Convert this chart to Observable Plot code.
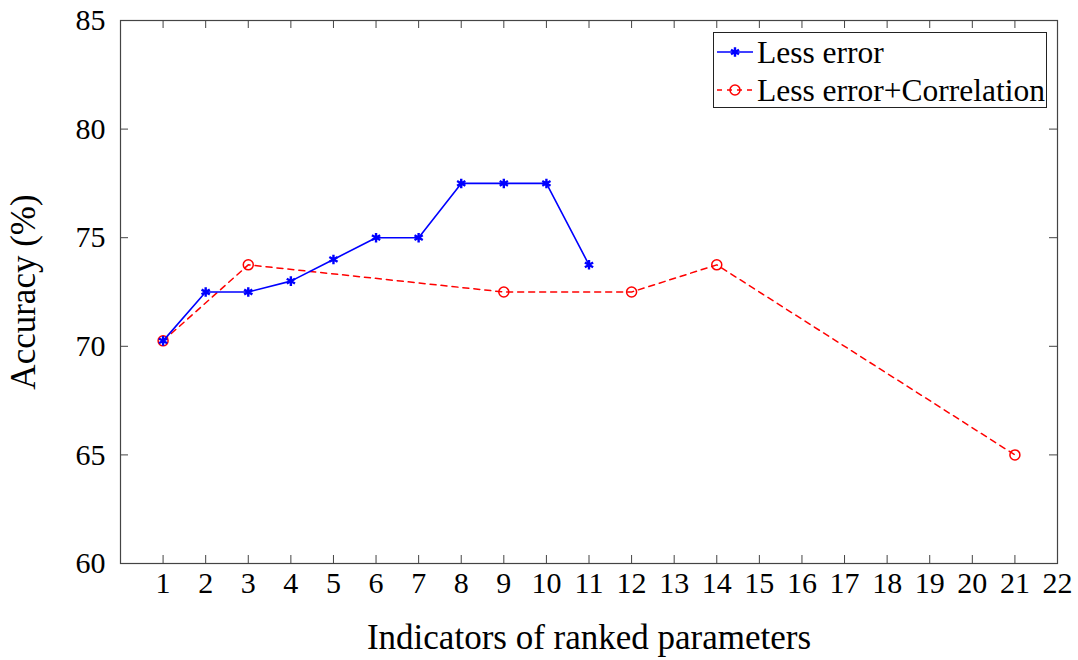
<!DOCTYPE html>
<html><head><meta charset="utf-8">
<script src="https://cdn.jsdelivr.net/npm/d3@7"></script>
<script src="https://cdn.jsdelivr.net/npm/@observablehq/plot@0.6"></script>
<style>
body{margin:0;background:#fff}
#c{position:relative;width:1078px;height:660px}
#legend{position:absolute;left:713px;top:32px}
</style>
</head><body><div id="c"></div>
<script>
const xTicks = [1,2,3,4,5,6,7,8,9,10,11,12,13,14,15,16,17,18,19,20,21,22];
const yTicks = [60,65,70,75,80,85];
const seriesNames = ["Less error", "Less error+Correlation"];
const lessErrorX = [1,2,3,4,5,6,7,8,9,10,11];
const lessErrorY = [70.25,72.5,72.5,73,74,75,75,77.5,77.5,77.5,73.75];
const corrX = [1,3,9,12,14,21];
const corrY = [70.25,73.75,72.5,72.5,73.75,65];

const W = 1078, H = 660, mL = 120, mR = 21, mT = 20, mB = 97;
const xDom = [0, 22], yDom = [60, 85];
const tickPx = 8;
const ty = tickPx * (yDom[1]-yDom[0]) / (H - mT - mB);
const tx = tickPx * (xDom[1]-xDom[0]) / (W - mL - mR);

const lessError = lessErrorX.map((x,i)=>({x, y: lessErrorY[i]}));
const corr = corrX.map((x,i)=>({x, y: corrY[i]}));
const font = "Liberation Serif";

const chart = Plot.plot({
  width: W, height: H,
  marginLeft: mL, marginRight: mR, marginTop: mT, marginBottom: mB,
  style: {fontFamily: font, fontSize: "30px", background: "#fff", color: "#000"},
  x: {domain: xDom},
  y: {domain: yDom},
  marks: [
    Plot.ruleX(xTicks, {x: d=>d, y1: yDom[0], y2: yDom[0]+ty, stroke: "#444"}),
    Plot.ruleX(xTicks, {x: d=>d, y1: yDom[1]-ty, y2: yDom[1], stroke: "#444"}),
    Plot.ruleY(yTicks, {y: d=>d, x1: xDom[0], x2: xDom[0]+tx, stroke: "#444"}),
    Plot.ruleY(yTicks, {y: d=>d, x1: xDom[1]-tx, x2: xDom[1], stroke: "#444"}),
    Plot.frame({stroke: "#444", strokeWidth: 1.2}),
    Plot.axisX(xTicks, {anchor: "bottom", tickSize: 0, tickPadding: 8, fontSize: 30, label: null}),
    Plot.axisX({anchor: "bottom", tickSize: 0, ticks: [], fontSize: 35,
      label: "Indicators of ranked parameters", labelAnchor: "center", labelArrow: "none", labelOffset: 85}),
    Plot.axisY(yTicks, {anchor: "left", tickSize: 0, tickPadding: 15, fontSize: 30, label: null}),
    Plot.axisY({anchor: "left", tickSize: 0, ticks: [], fontSize: 35,
      label: "Accuracy (%)", labelAnchor: "center", labelArrow: "none", labelOffset: 110}),
    Plot.line(corr, {x: "x", y: "y", stroke: "red", strokeWidth: 1.5, strokeDasharray: "6,5"}),
    Plot.dot(corr, {x: "x", y: "y", r: 5, stroke: "red", strokeWidth: 1.5, fill: "none"}),
    Plot.line(lessError, {x: "x", y: "y", stroke: "blue", strokeWidth: 1.6}),
    Plot.dot(lessError, {x: "x", y: "y", symbol: "asterisk", r: 4.5, stroke: "blue", strokeWidth: 2.4})
  ]
});
const c = document.getElementById("c");
c.appendChild(chart);

// legend
const lw = 334, lh = 76;
const svg = d3.select(c).append("svg").attr("id","legend").attr("width", lw).attr("height", lh);
svg.append("rect").attr("x",0.5).attr("y",0.5).attr("width",lw-1).attr("height",lh-1).attr("fill","#fff").attr("stroke","#222");
const rows = [
  {name: seriesNames[0], color: "blue", dash: null, sym: "star"},
  {name: seriesNames[1], color: "red", dash: "5,5", sym: "circle"}
];
rows.forEach((r,i)=>{
  const cy = 20 + i*38;
  const g = svg.append("g");
  g.append("line").attr("x1",4).attr("x2",40).attr("y1",cy).attr("y2",cy)
    .attr("stroke", r.color).attr("stroke-width",1.5).attr("stroke-dasharray", r.dash);
  if (r.sym === "star") {
    g.append("path").attr("d", d3.symbol(d3.symbolAsterisk, 60)()).attr("transform",`translate(22,${cy})`)
      .attr("stroke", r.color).attr("stroke-width",2.4).attr("fill","none");
  } else {
    g.append("circle").attr("cx",22).attr("cy",cy).attr("r",5).attr("stroke",r.color).attr("stroke-width",1.5).attr("fill","none");
  }
  g.append("text").attr("x",44).attr("y",cy).attr("dy","0.35em").attr("font-family",font).attr("font-size",31.5).text(r.name);
});
</script>
</body></html>
